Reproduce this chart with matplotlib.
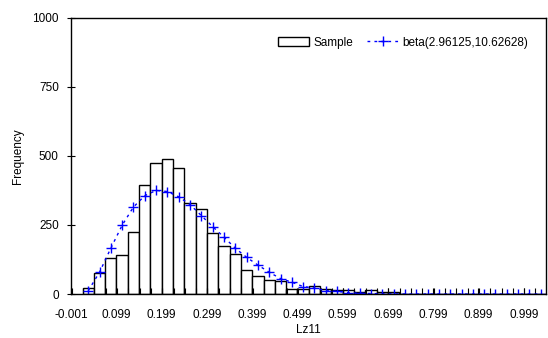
import numpy as np
import matplotlib
matplotlib.use("Agg")
import matplotlib.pyplot as plt
from matplotlib.ticker import MultipleLocator, FixedLocator

plt.rcParams["font.family"] = ["Liberation Sans", "DejaVu Sans"]
plt.rcParams["font.size"] = 8.5

# --- data ---
x_start = -0.001          # left end of the axis
bin_width = 0.025
# counts for bins starting one bin after the axis start (first bin is empty)
sample_counts = [23, 77, 132, 141, 226, 395, 473, 489, 457, 329,
                 309, 221, 173, 146, 88, 66, 52, 47, 18, 18,
                 28, 19, 13, 13, 7, 14, 6, 6, 2, 1,
                 1, 1, 0, 0, 0, 0, 0, 0, 0, 0, 0]
beta_counts = [12, 79, 166, 249, 315, 356, 375, 371, 352, 324,
               284, 244, 206, 166, 133, 105, 79, 56, 43, 27,
               22, 12, 10, 5, 3, 2, 1, 1, 0, 0,
               0, 0, 0, 0, 0, 0, 0, 0, 0, 0, 0]
n_bins_axis = 42
x_tick_labels = ["-0.001", "0.099", "0.199", "0.299", "0.399", "0.499",
                 "0.599", "0.699", "0.799", "0.899", "0.999"]
y_ticks = [0, 250, 500, 750, 1000]
beta_label = "beta(2.96125,10.62628)"

# bin geometry
lefts = x_start + bin_width * (1 + np.arange(len(sample_counts)))
centers = lefts + bin_width / 2
x_end = x_start + n_bins_axis * bin_width

fig = plt.figure(figsize=(5.48, 3.38), dpi=100)
ax = fig.add_axes([0.130, 0.130, 0.867, 0.8176])

bars = ax.bar(lefts, sample_counts, width=bin_width, align="edge",
              color="white", edgecolor="black", linewidth=1.0, label="Sample")
line, = ax.plot(centers, beta_counts, color="#0000ff", linestyle=(0, (2, 3)),
                linewidth=1.0, marker="+", markersize=7, markeredgewidth=1.0,
                label=beta_label)

ax.set_xlim(x_start, x_end)
ax.set_ylim(0, 1000)
ax.set_yticks(y_ticks)

major_pos = [x_start + 0.1 * i for i in range(len(x_tick_labels))]
ax.xaxis.set_major_locator(FixedLocator(major_pos))
ax.set_xticklabels(x_tick_labels)
ax.xaxis.set_minor_locator(MultipleLocator(bin_width))

ax.tick_params(axis="x", which="both", direction="in", length=4, width=0.8, pad=11)
ax.tick_params(axis="y", direction="inout", length=6, width=0.8, pad=6)

for s in ax.spines.values():
    s.set_linewidth(1.0)
    s.set_color("black")

ax.set_xlabel("Lz11", labelpad=2)
ax.set_ylabel("Frequency", labelpad=6)

ax.legend([bars, line], ["Sample", beta_label], loc="upper right",
          bbox_to_anchor=(0.985, 0.97), ncol=2, frameon=False,
          handlelength=2.6, handleheight=0.9, columnspacing=1.2, handletextpad=0.4,
          fontsize=8.5)

fig.savefig("out.png", dpi=100)
